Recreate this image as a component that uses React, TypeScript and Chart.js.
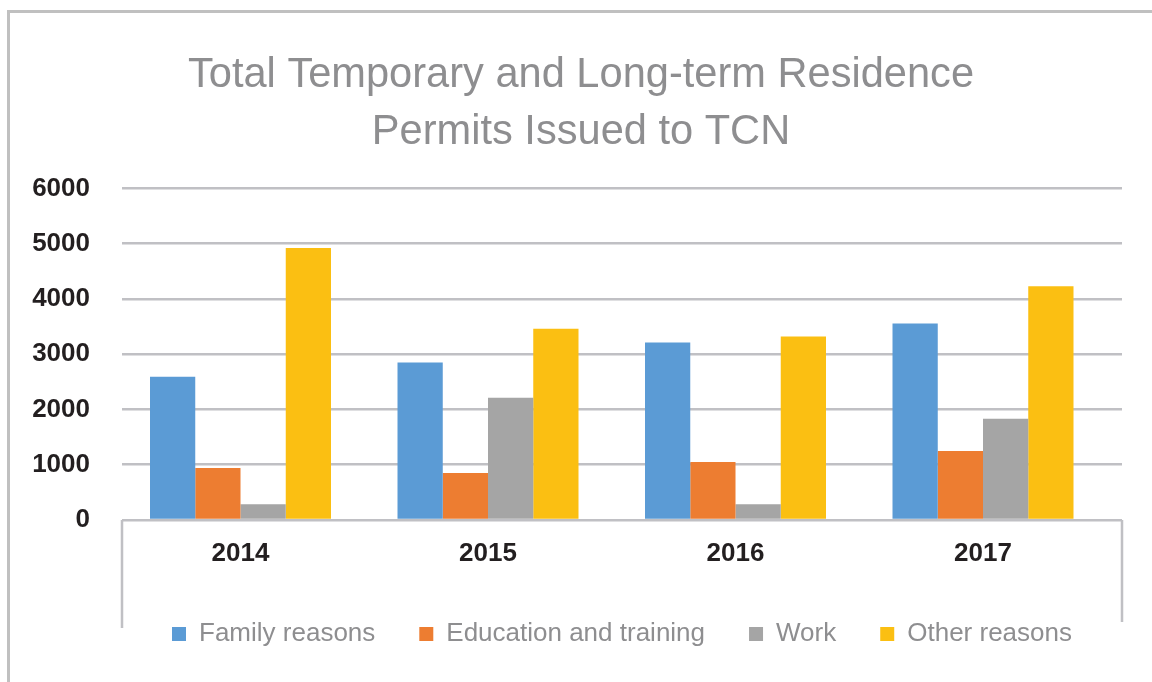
import React, { useEffect, useRef } from "react";
import { Chart, registerables } from "chart.js";

Chart.register(...registerables);

const categories = ["2014", "2015", "2016", "2017"];
const familyReasons = [2590, 2850, 3210, 3555];
const educationTraining = [940, 850, 1050, 1250];
const work = [285, 2210, 285, 1830];
const otherReasons = [4920, 3460, 3320, 4230];
const yTicks = [0, 1000, 2000, 3000, 4000, 5000, 6000];

const titleLines = ["Total Temporary and Long-term Residence", "Permits Issued to TCN"];
const seriesNames = ["Family reasons", "Education and training", "Work", "Other reasons"];
const seriesColors = ["#5b9bd5", "#ed7d31", "#a5a5a5", "#fbbf12"];

const GRID = "#c0c0c4";
const FONT = "'Liberation Sans', Arial, Helvetica, sans-serif";

const sideLines = {
  id: "sideLines",
  afterDraw(chart: any) {
    const { ctx, chartArea } = chart;
    ctx.save();
    ctx.strokeStyle = GRID;
    ctx.lineWidth = 2.5;
    ctx.beginPath();
    ctx.moveTo(chartArea.left, chartArea.bottom);
    ctx.lineTo(chartArea.left, chartArea.bottom + 108);
    ctx.moveTo(chartArea.right, chartArea.bottom);
    ctx.lineTo(chartArea.right, chartArea.bottom + 102);
    ctx.stroke();
    ctx.restore();
  },
};

export default function App() {
  const ref = useRef<HTMLCanvasElement | null>(null);

  useEffect(() => {
    if (!ref.current) return;
    const values = [familyReasons, educationTraining, work, otherReasons];
    const chart = new Chart(ref.current, {
      type: "bar",
      data: {
        datasets: seriesNames.map((name, i) => ({
          label: name,
          data: values[i].map((v, j) => ({ x: j, y: v })),
          backgroundColor: seriesColors[i],
          borderWidth: 0,
          categoryPercentage: 0.7313,
          barPercentage: 1,
          yAxisID: "y",
        })),
      },
      options: {
        responsive: false,
        animation: false,
        devicePixelRatio: 1,
        layout: { padding: { left: 0, right: 0, top: 0, bottom: 25 } },
        plugins: {
          tooltip: { enabled: false },
          title: {
            display: true,
            text: titleLines,
            color: "#8e8e90",
            font: { family: FONT, size: 41.6, weight: "normal", lineHeight: 57 / 41.6 },
            padding: { top: 34, bottom: 27.4 },
          },
          legend: {
            display: true,
            position: "bottom",
            fullSize: false,
            labels: {
              color: "#8e8e90",
              font: { family: FONT, size: 26 },
              boxWidth: 14,
              boxHeight: 14,
              padding: 44,
            },
          },
        },
        scales: {
          x: {
            type: "linear",
            min: -0.4788,
            max: 3.5616,
            offset: false,
            afterBuildTicks(scale: any) {
              scale.ticks = categories.map((_, i) => ({ value: i }));
            },
            grid: { display: false, drawTicks: false },
            border: { display: false },
            ticks: {
              color: "#231f20",
              font: { family: FONT, size: 26, weight: "bold" },
              padding: 18,
              callback: (v: any) => categories[Math.round(Number(v))] ?? "",
            },
            afterFit(scale: any) {
              scale.height = 57;
            },
          },
          y: {
            min: 0,
            max: 6000,
            afterBuildTicks(scale: any) {
              scale.ticks = yTicks.map((v) => ({ value: v }));
            },
            grid: { color: GRID, lineWidth: 2.5, drawTicks: false },
            border: { display: false },
            ticks: {
              color: "#231f20",
              font: { family: FONT, size: 26, weight: "bold" },
              padding: 32,
              callback: (v: any) => String(v),
            },
            afterFit(scale: any) {
              scale.width = 112;
            },
          },
          yRight: {
            position: "right",
            min: 0,
            max: 6000,
            grid: { display: false, drawTicks: false },
            border: { display: false },
            ticks: { display: false },
            afterFit(scale: any) {
              scale.width = 30;
            },
          },
        },
      },
      plugins: [sideLines],
    });
    return () => chart.destroy();
  }, []);

  return (
    <div
      style={{
        position: "absolute",
        left: 7,
        top: 10,
        width: 1142,
        height: 669,
        borderLeft: "3px solid #c0c0c0",
        borderTop: "3px solid #c0c0c0",
        background: "#fff",
      }}
    >
      <canvas ref={ref} width={1142} height={669} style={{ display: "block" }} />
    </div>
  );
}
